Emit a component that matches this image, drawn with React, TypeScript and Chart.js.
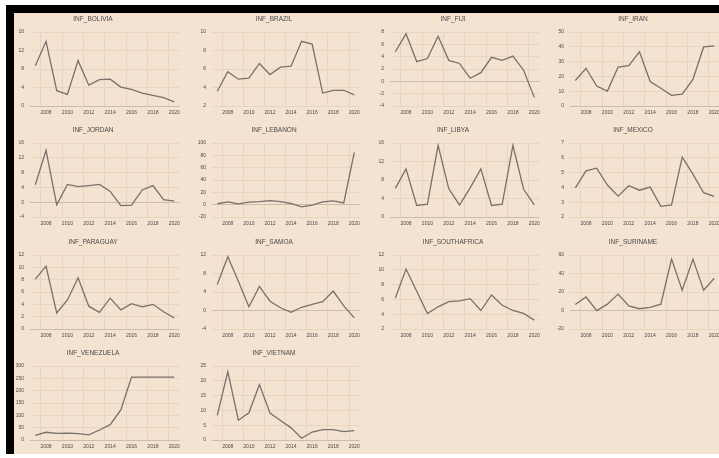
import React, { useEffect, useRef } from "react";
import { Chart, registerables } from "chart.js";
Chart.register(...registerables);

const YEARS = ["2007","2008","2009","2010","2011","2012","2013","2014","2015","2016","2017","2018","2019","2020"];

const INF_BOLIVIA = [8.7, 14.0, 3.3, 2.5, 9.8, 4.5, 5.7, 5.8, 4.1, 3.6, 2.8, 2.3, 1.8, 0.9];
const INF_BRAZIL = [3.6, 5.7, 4.9, 5.0, 6.6, 5.4, 6.2, 6.3, 9.0, 8.7, 3.4, 3.7, 3.7, 3.2];
const INF_FIJI = [4.8, 7.7, 3.2, 3.7, 7.3, 3.4, 2.9, 0.5, 1.4, 3.9, 3.4, 4.1, 1.8, -2.6];
const INF_IRAN = [17.2, 25.5, 13.5, 10.1, 26.3, 27.3, 36.6, 16.5, 12.0, 7.2, 8.0, 18.0, 39.9, 40.6];
const INF_JORDAN = [4.7, 14.0, -0.7, 4.8, 4.2, 4.5, 4.8, 2.9, -0.9, -0.8, 3.3, 4.5, 0.7, 0.3];
const INF_LEBANON = [1.5, 4.5, 1.2, 4.0, 5.0, 6.6, 4.8, 1.9, -3.7, -0.8, 4.5, 6.1, 2.9, 84.9];
const INF_LIBYA = [6.2, 10.4, 2.5, 2.8, 15.5, 6.1, 2.6, 6.3, 10.4, 2.5, 2.8, 15.5, 6.0, 2.6];
const INF_MEXICO = [3.97, 5.12, 5.3, 4.16, 3.41, 4.11, 3.81, 4.02, 2.72, 2.82, 6.04, 4.9, 3.64, 3.4];
const INF_PARAGUAY = [8.1, 10.2, 2.6, 4.7, 8.3, 3.7, 2.7, 5.0, 3.1, 4.1, 3.6, 4.0, 2.8, 1.8];
const INF_SAMOA = [5.6, 11.6, 6.3, 0.8, 5.2, 2.0, 0.6, -0.4, 0.7, 1.3, 1.9, 4.2, 1.0, -1.6];
const INF_SOUTHAFRICA = [6.2, 10.1, 7.1, 4.1, 5.0, 5.7, 5.8, 6.1, 4.5, 6.6, 5.2, 4.5, 4.1, 3.2];
const INF_SURINAME = [6.4, 14.6, -0.1, 6.9, 17.7, 5.0, 1.9, 3.4, 6.9, 55.5, 22.0, 55.5, 22.0, 34.9];
const INF_VENEZUELA = [18.7, 31.4, 27.1, 28.2, 26.1, 21.1, 40.6, 62.2, 121.7, 254.9, 254.9, 254.9, 254.9, 254.9];
const INF_VIETNAM = [8.3, 23.1, 6.7, 9.2, 18.7, 9.1, 6.6, 4.1, 0.6, 2.7, 3.5, 3.5, 2.8, 3.2];

const TITLES = ["INF_BOLIVIA","INF_BRAZIL","INF_FIJI","INF_IRAN","INF_JORDAN","INF_LEBANON","INF_LIBYA","INF_MEXICO","INF_PARAGUAY","INF_SAMOA","INF_SOUTHAFRICA","INF_SURINAME","INF_VENEZUELA","INF_VIETNAM"];
const SERIES = [INF_BOLIVIA, INF_BRAZIL, INF_FIJI, INF_IRAN, INF_JORDAN, INF_LEBANON, INF_LIBYA, INF_MEXICO, INF_PARAGUAY, INF_SAMOA, INF_SOUTHAFRICA, INF_SURINAME, INF_VENEZUELA, INF_VIETNAM];
const Y_MIN = [0, 2, -4, 0, -4, -20, 0, 2, 0, -4, 2, -20, 0, 0];
const Y_MAX = [16, 10, 8, 50, 16, 100, 16, 7, 12, 12, 12, 60, 300, 25];
const Y_STEP = [4, 2, 2, 10, 4, 20, 4, 1, 2, 4, 2, 20, 50, 5];

const BG = "#F4E3D0";
const GRID = "#E8D5C0";
const AXIS = "#CDBCAB";
const LINE = "#77706B";
const TEXT = "#4A4A4A";
const FONT = "'Liberation Sans', Arial, sans-serif";

const PLOT_LEFT = [30, 212, 390, 570];
const PLOT_W = [150, 148, 150, 150];
const PLOT_TOP = [32, 143, 255, 366];
const PLOT_H = 74;
const YAXIS_W = 24;
const TOP_H = 24;
const XAXIS_H = 14;
const RIGHT_PAD = 4;

function Panel({ idx }: { idx: number }) {
  const ref = useRef<HTMLCanvasElement>(null);
  const col = idx % 4;
  const row = Math.floor(idx / 4);
  const w = YAXIS_W + PLOT_W[col] + RIGHT_PAD;
  const h = TOP_H + PLOT_H + XAXIS_H;
  useEffect(() => {
    if (!ref.current) return;
    const chart = new Chart(ref.current, {
      type: "line",
      data: {
        labels: YEARS,
        datasets: [{
          data: SERIES[idx],
          borderColor: LINE,
          borderWidth: 1.3,
          pointRadius: 0,
          tension: 0,
          fill: false,
        }],
      },
      options: {
        animation: false,
        responsive: false,
        maintainAspectRatio: false,
        devicePixelRatio: 1,
        layout: { padding: { left: 0, right: RIGHT_PAD, top: 0, bottom: 0 } },
        plugins: {
          legend: { display: false },
          tooltip: { enabled: false },
          title: {
            display: true,
            text: TITLES[idx],
            color: TEXT,
            font: { family: FONT, size: 6.5, weight: "normal", lineHeight: 1.2 },
            padding: { top: 7, bottom: 9.2 },
          },
        },
        scales: {
          x: {
            type: "category",
            offset: true,
            border: { display: false },
            grid: {
              offset: true,
              drawTicks: false,
              lineWidth: 1,
              color: (ctx: any) => (ctx.index % 2 === 1 && ctx.index < YEARS.length ? GRID : "rgba(0,0,0,0)"),
            },
            ticks: {
              autoSkip: false,
              maxRotation: 0,
              minRotation: 0,
              padding: 4,
              color: TEXT,
              font: { family: FONT, size: 5 },
              callback: (_v: any, i: number) => (i % 2 === 1 ? YEARS[i] : ""),
            },
            afterFit: (s: any) => { s.height = XAXIS_H; },
          },
          y: {
            min: Y_MIN[idx],
            max: Y_MAX[idx],
            border: { display: false },
            grid: {
              drawTicks: false,
              lineWidth: 1,
              color: (ctx: any) => (ctx.tick && ctx.tick.value === 0 ? AXIS : GRID),
            },
            ticks: {
              stepSize: Y_STEP[idx],
              padding: 6,
              color: TEXT,
              font: { family: FONT, size: 5 },
            },
            afterFit: (s: any) => { s.width = YAXIS_W; },
          },
        },
      } as any,
    });
    return () => chart.destroy();
  }, [idx]);
  return (
    <div style={{ position: "absolute", left: PLOT_LEFT[col] - YAXIS_W, top: PLOT_TOP[row] - TOP_H, width: w, height: h }}>
      <canvas ref={ref} width={w} height={h} style={{ width: w, height: h, display: "block" }} />
    </div>
  );
}

export default function App() {
  return (
    <div style={{ position: "fixed", left: 0, top: 0, width: 719, height: 458, background: "#fff", overflow: "hidden" }}>
      <div style={{ position: "absolute", left: 6, top: 5, right: 0, bottom: 4, background: "#000" }} />
      <div style={{ position: "absolute", left: 14, top: 13, right: 0, bottom: 4, background: BG }} />
      {TITLES.map((_, i) => <Panel key={i} idx={i} />)}
    </div>
  );
}
